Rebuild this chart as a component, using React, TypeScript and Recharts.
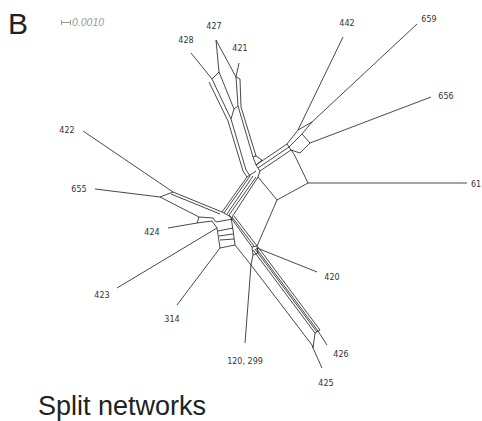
import { ComposedChart, Line, Scatter, XAxis, YAxis } from "recharts";

type Pt = [number, number];

// split network layout, in drawing units (x to the right, y downwards)
const upperArm: Pt[][] = [
  [[191, 53], [212, 79], [219, 72], [216, 40], [236, 77], [239, 63]],
  [[212, 79], [231, 119], [246, 170], [250, 176]],
  [[209, 82], [228, 121], [243, 171], [247, 177]],
  [[219, 72], [234, 109], [231, 119]],
  [[236, 77], [238, 106], [234, 109]],
  [[238, 106], [253, 157], [256, 165]],
  [[236, 77], [240, 79], [241, 107], [256, 156], [262, 160]],
  [[253, 157], [256, 156]],
  [[256, 165], [262, 160]],
];

const centerBand: Pt[][] = [
  [[247, 177], [222, 212]],
  [[250, 176], [224, 213]],
  [[253, 176], [227, 214]],
  [[256, 177], [229, 215]],
  [[258, 177], [232, 217]],
  [[256, 165], [260, 171], [258, 177]],
  [[247, 177], [256, 171]],
];

const upperRight: Pt[][] = [
  [[256, 165], [287, 144]],
  [[258, 168], [289, 147]],
  [[260, 171], [291, 150]],
  [[343, 37], [298, 130], [287, 144]],
  [[298, 130], [312, 122]],
  [[417, 24], [312, 122], [302, 134], [289, 147]],
  [[431, 97], [310, 143], [300, 153], [291, 150]],
  [[302, 134], [310, 143]],
  [[287, 144], [291, 150]],
];

const rightBox: Pt[][] = [
  [[291, 150], [294, 154], [308, 183], [277, 200], [258, 177]],
  [[308, 183], [467, 183]],
  [[277, 200], [257, 246]],
];

const leftArm: Pt[][] = [
  [[83, 131], [173, 192]],
  [[95, 189], [160, 197], [173, 192]],
  [[173, 192], [222, 212]],
  [[171, 194], [220, 214]],
  [[160, 197], [199, 217], [213, 218]],
  [[168, 228], [197, 223], [212, 221]],
  [[197, 223], [199, 217]],
];

const leftBox: Pt[][] = [
  [[117, 288], [217, 228]],
  [[177, 305], [220, 248]],
  [[212, 221], [217, 228], [220, 248], [235, 245], [233, 230], [231, 217]],
  [[213, 218], [216, 222], [233, 219]],
  [[218, 231], [233, 228]],
  [[219, 236], [233, 234]],
  [[220, 240], [234, 239]],
  [[222, 212], [231, 217]],
];

const lowerRight: Pt[][] = [
  [[229, 215], [252, 247]],
  [[232, 217], [254, 246]],
  [[234, 216], [257, 246]],
  [[252, 247], [257, 246], [258, 253], [253, 255], [252, 247]],
  [[253, 250], [315, 333]],
  [[255, 249], [317, 332]],
  [[256, 248], [318, 331]],
  [[258, 247], [320, 330]],
  [[235, 245], [251, 265], [312, 345]],
  [[253, 255], [251, 265], [245, 343]],
  [[257, 248], [317, 272]],
  [[318, 331], [327, 345]],
  [[312, 345], [313, 348], [322, 368]],
  [[315, 333], [313, 348]],
  [[315, 333], [320, 330]],
];

const splits: Pt[][] = [
  ...upperArm,
  ...centerBand,
  ...upperRight,
  ...rightBox,
  ...leftArm,
  ...leftBox,
  ...lowerRight,
];

const taxa = ["427", "428", "421", "442", "659", "656", "422", "655", "424", "61", "420", "423", "314", "120, 299", "426", "425"];
const taxonX = [214, 186, 240, 347, 429, 446, 67, 79, 152, 476, 332, 102, 172, 245, 341, 326];
const taxonY = [26, 40, 48, 23, 19, 96, 130, 189, 232, 184, 277, 295, 319, 361, 354, 383];

const labels = taxa.map((name, i) => ({ name, x: taxonX[i], y: taxonY[i] }));

const TaxonLabel = (props: any) => (
  <text
    x={props.cx}
    y={props.cy}
    textAnchor="middle"
    dominantBaseline="central"
    fontSize={8}
    fill="#333"
    fontFamily="DejaVu Sans"
  >
    {props.payload.name}
  </text>
);

export default function App() {
  return (
    <div
      style={{
        position: "absolute",
        left: 0,
        top: 0,
        width: 482,
        height: 421,
        background: "#fff",
        fontFamily: "'Liberation Sans', Arial, sans-serif",
        overflow: "hidden",
      }}
    >
      <ComposedChart width={482} height={421} margin={{ top: 0, right: 0, bottom: 0, left: 0 }}>
        <XAxis type="number" dataKey="x" domain={[0, 482]} hide allowDataOverflow />
        <YAxis type="number" dataKey="y" domain={[0, 421]} reversed hide allowDataOverflow />
        {splits.map((poly, i) => (
          <Line
            key={i}
            data={poly.map(([x, y]) => ({ x, y }))}
            dataKey="y"
            stroke="#1a1a1a"
            strokeWidth={0.8}
            dot={false}
            activeDot={false}
            isAnimationActive={false}
          />
        ))}
        <Scatter data={labels} dataKey="y" shape={TaxonLabel} isAnimationActive={false} />
      </ComposedChart>

      <div style={{ position: "absolute", left: 8, top: 6, fontSize: 30, color: "#222", lineHeight: "36px" }}>
        B
      </div>

      <div style={{ position: "absolute", left: 61, top: 15, display: "flex", alignItems: "center" }}>
        <div
          style={{
            width: 8,
            height: 5,
            borderLeft: "1px solid #999",
            borderRight: "1px solid #999",
            position: "relative",
            marginRight: 1,
          }}
        >
          <div style={{ position: "absolute", left: 0, right: 0, top: 2, borderTop: "1px solid #999" }} />
        </div>
        <span style={{ fontSize: 10.5, fontStyle: "italic", color: "#999", lineHeight: "14px" }}>0.0010</span>
      </div>

      <div style={{ position: "absolute", left: 38, top: 391, fontSize: 27, color: "#222", lineHeight: "30px" }}>
        Split networks
      </div>
    </div>
  );
}
